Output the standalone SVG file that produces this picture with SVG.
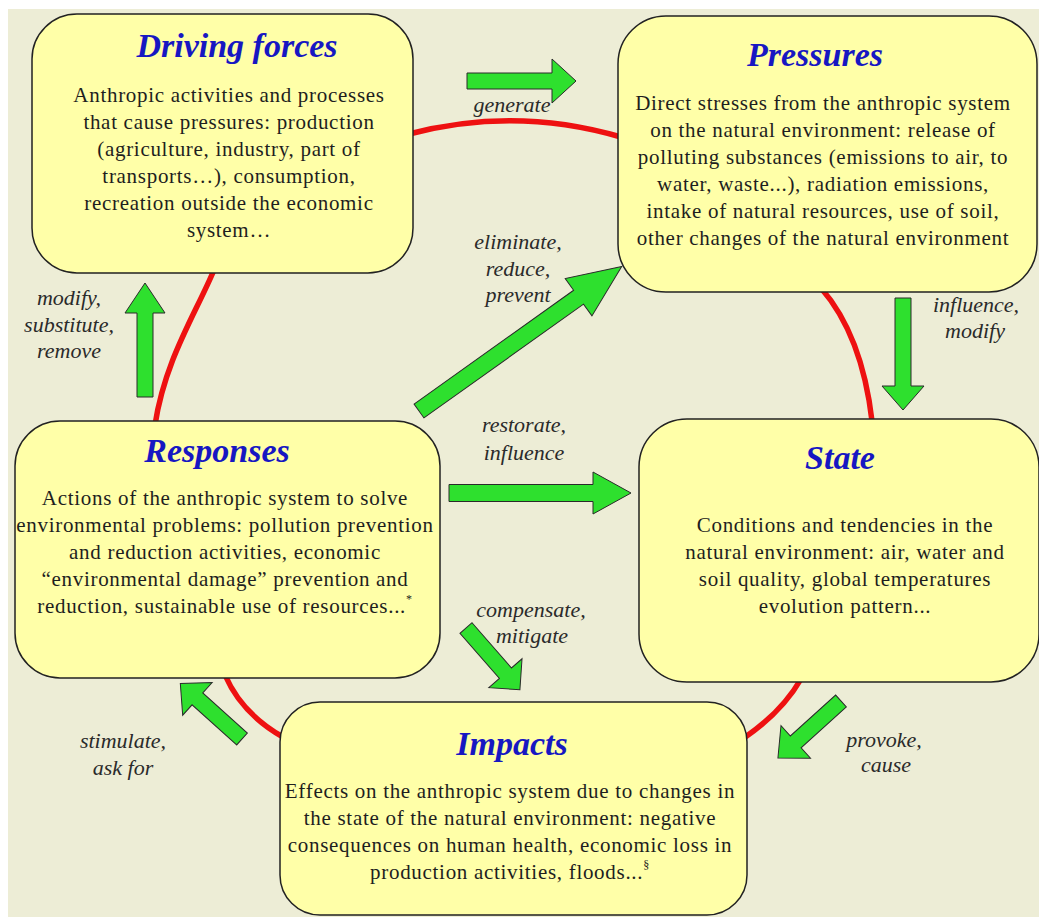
<svg xmlns="http://www.w3.org/2000/svg" width="1039" height="917" viewBox="0 0 1039 917">
<style>
.box{fill:#FFFFA8;stroke:#222;stroke-width:1.5}
.title{font-family:"Liberation Serif","Times New Roman",serif;font-weight:bold;font-style:italic;font-size:34px;fill:#1717C2;text-anchor:middle}
.body{font-family:"Liberation Serif","Times New Roman",serif;font-size:21px;letter-spacing:0.7px;fill:#1E1E1E;text-anchor:middle}
.lab{font-family:"Liberation Serif","Times New Roman",serif;font-style:italic;font-size:22px;fill:#2A2A2A;text-anchor:middle}
.red{fill:none;stroke:#EE1111;stroke-width:5.5}
.arrow{fill:#2EE02E;stroke:#2A2A2A;stroke-width:1}
.sup{font-size:12px}
</style>
<rect x="0" y="0" width="1039" height="917" fill="#FFFFFF"/>
<rect x="8" y="9" width="1031" height="908" fill="#EDEDD6"/>

<g id="cycle">
<path class="red" d="M409,134 Q515,106 621,137"/>
<path class="red" d="M214,270 C195,315 165,360 155,425"/>
<path class="red" d="M821,288 Q862,335 872,421"/>
<path class="red" d="M801,679 Q782,712 744,738"/>
<path class="red" d="M225,675 Q242,714 283,737"/>
</g>

<g id="driving-forces">
<rect class="box" x="32" y="14" width="381" height="259" rx="45" ry="45"/>
<text class="title" x="237" y="57">Driving forces</text>
<text class="body" x="229" y="102">Anthropic activities and processes</text>
<text class="body" x="229" y="129">that cause pressures: production</text>
<text class="body" x="229" y="156">(agriculture, industry, part of</text>
<text class="body" x="229" y="183">transports…), consumption,</text>
<text class="body" x="229" y="210">recreation outside the economic</text>
<text class="body" x="229" y="237">system…</text>
</g>

<g id="pressures">
<rect class="box" x="618" y="16" width="419" height="276" rx="48" ry="48"/>
<text class="title" x="815" y="66">Pressures</text>
<text class="body" x="823" y="110">Direct stresses from the anthropic system</text>
<text class="body" x="823" y="137">on the natural environment: release of</text>
<text class="body" x="823" y="164">polluting substances (emissions to air, to</text>
<text class="body" x="823" y="191">water, waste...), radiation emissions,</text>
<text class="body" x="823" y="218">intake of natural resources, use of soil,</text>
<text class="body" x="823" y="245">other changes of the natural environment</text>
</g>

<g id="responses">
<rect class="box" x="15" y="421" width="425" height="257" rx="45" ry="45"/>
<text class="title" x="217" y="462">Responses</text>
<text class="body" x="225" y="505">Actions of the anthropic system to solve</text>
<text class="body" x="225" y="532">environmental problems: pollution prevention</text>
<text class="body" x="225" y="559">and reduction activities, economic</text>
<text class="body" x="225" y="586">“environmental damage” prevention and</text>
<text class="body" x="225" y="613">reduction, sustainable use of resources...<tspan class="sup" dy="-10">*</tspan></text>
</g>

<g id="state">
<rect class="box" x="639" y="419" width="400" height="263" rx="48" ry="48"/>
<text class="title" x="840" y="469">State</text>
<text class="body" x="845" y="532">Conditions and tendencies in the</text>
<text class="body" x="845" y="559">natural environment: air, water and</text>
<text class="body" x="845" y="586">soil quality, global temperatures</text>
<text class="body" x="845" y="613">evolution pattern...</text>
</g>

<g id="impacts">
<rect class="box" x="280" y="702" width="467" height="213" rx="40" ry="40"/>
<text class="title" x="512" y="755">Impacts</text>
<text class="body" x="510" y="798">Effects on the anthropic system due to changes in</text>
<text class="body" x="510" y="825">the state of the natural environment: negative</text>
<text class="body" x="510" y="852">consequences on human health, economic loss in</text>
<text class="body" x="510" y="879">production activities, floods...<tspan class="sup" dy="-10">§</tspan></text>
</g>

<g id="connectors">
<polygon class="arrow" transform="translate(467,81)" points="0,-8 85,-8 85,-22 109,0 85,22 85,8 0,8"/>
<polygon class="arrow" transform="translate(145,397) rotate(-90)" points="0,-8 84,-8 84,-20 114,0 84,20 84,8 0,8"/>
<polygon class="arrow" transform="translate(419,411) rotate(-35.5)" points="0,-8.5 196,-8.5 196,-23 249,0 196,23 196,8.5 0,8.5"/>
<polygon class="arrow" transform="translate(903,298) rotate(90)" points="0,-8 88,-8 88,-21 112,0 88,21 88,8 0,8"/>
<polygon class="arrow" transform="translate(449,493) rotate(0)" points="0,-8.5 144,-8.5 144,-21 182,0 144,21 144,8.5 0,8.5"/>
<polygon class="arrow" transform="translate(466,628) rotate(48.9)" points="0,-8 60,-8 60,-22 82,0 60,22 60,8 0,8"/>
<polygon class="arrow" transform="translate(841,701) rotate(137.9)" points="0,-8 61,-8 61,-22 85,0 61,22 61,8 0,8"/>
<polygon class="arrow" transform="translate(242,739) rotate(222)" points="0,-8 60,-8 60,-22 83,0 60,22 60,8 0,8"/>
</g>

<g id="labels">
<text class="lab" x="512" y="112">generate</text>
<text class="lab" x="518" y="249">eliminate,</text>
<text class="lab" x="518" y="276">reduce,</text>
<text class="lab" x="518" y="302">prevent</text>
<text class="lab" x="69" y="305">modify,</text>
<text class="lab" x="69" y="332">substitute,</text>
<text class="lab" x="69" y="358">remove</text>
<text class="lab" x="976" y="312">influence,</text>
<text class="lab" x="975" y="338">modify</text>
<text class="lab" x="524" y="432">restorate,</text>
<text class="lab" x="524" y="460">influence</text>
<text class="lab" x="531" y="617">compensate,</text>
<text class="lab" x="532" y="643">mitigate</text>
<text class="lab" x="123" y="748">stimulate,</text>
<text class="lab" x="123" y="775">ask for</text>
<text class="lab" x="884" y="747">provoke,</text>
<text class="lab" x="886" y="772">cause</text>
</g>
</svg>
